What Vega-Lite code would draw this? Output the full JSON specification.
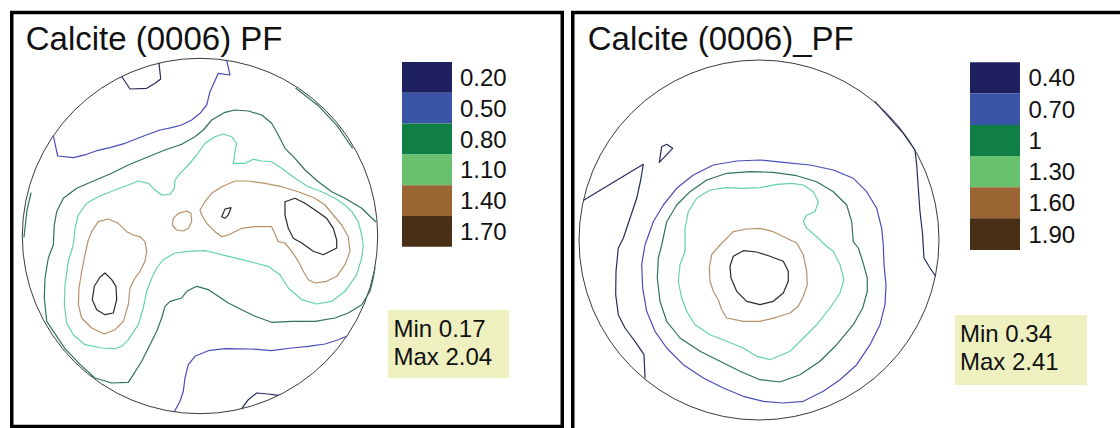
{
"$schema": "https://vega.github.io/schema/vega-lite/v6.json",
"padding": 0,
"spacing": 0,
"config": {"view": {"stroke": null}, "concat": {"spacing": 0}},
"datasets": {
"ctr": [{"x": 0, "y": 0}],
"f1": [{"x": -188.25, "x2": 362.25, "y": 223.5, "y2": -190.5}],
"f2": [{"x": -186.25, "x2": 380, "y": 227.5, "y2": -200}],
"b1": [{"x": 188, "x2": 309, "y": -74, "y2": -142}],
"b2": [{"x": 196, "x2": 328, "y": -75, "y2": -145}],
"g1": [
{"c":1,"x":202,"x2":252,"y":174,"y2":143.2},
{"c":2,"x":202,"x2":252,"y":143.2,"y2":112.4},
{"c":3,"x":202,"x2":252,"y":112.4,"y2":81.6},
{"c":4,"x":202,"x2":252,"y":81.6,"y2":50.8},
{"c":5,"x":202,"x2":252,"y":50.8,"y2":20},
{"c":6,"x":202,"x2":252,"y":20,"y2":-10.8}],
"g2": [
{"c":1,"x":211,"x2":261,"y":177.7,"y2":146.7},
{"c":2,"x":211,"x2":261,"y":146.7,"y2":115},
{"c":3,"x":211,"x2":261,"y":115,"y2":84},
{"c":4,"x":211,"x2":261,"y":84,"y2":52.7},
{"c":5,"x":211,"x2":261,"y":52.7,"y2":21.7},
{"c":6,"x":211,"x2":261,"y":21.7,"y2":-10}],
"t1": [
{"t":"0.20","x":260,"y":150},
{"t":"0.50","x":260,"y":119.2},
{"t":"0.80","x":260,"y":88.4},
{"t":"1.10","x":260,"y":57.6},
{"t":"1.40","x":260,"y":26.8},
{"t":"1.70","x":260,"y":-4},
{"t":"Min 0.17","x":193.5,"y":-100.7},
{"t":"Max 2.04","x":193.5,"y":-129}],
"t2": [
{"t":"0.40","x":269.5,"y":153.6},
{"t":"0.70","x":269.5,"y":122.2},
{"t":"1","x":269.5,"y":90.9},
{"t":"1.30","x":269.5,"y":59.7},
{"t":"1.60","x":269.5,"y":28.6},
{"t":"1.90","x":269.5,"y":-2.8},
{"t":"Min 0.34","x":201,"y":-101.7},
{"t":"Max 2.41","x":201,"y":-130}],
"h1": [{"t":"Calcite (0006) PF","x":-174.3,"y":186}],
"h2": [{"t":"Calcite (0006)_PF","x":-171.3,"y":190}],
"l1": [
{"s":"a","c":1,"x":-78.3,"y":159.5},{"s":"a","c":1,"x":-70,"y":147},{"s":"a","c":1,"x":-53.3,"y":147.7},{"s":"a","c":1,"x":-45,"y":152.7},{"s":"a","c":1,"x":-39.3,"y":157},{"s":"a","c":1,"x":-41,"y":172.9},
{"s":"b","c":2,"x":-146.7,"y":100.3},{"s":"b","c":2,"x":-142.3,"y":80},{"s":"b","c":2,"x":-126.7,"y":78.3},{"s":"b","c":2,"x":-113.3,"y":81.7},{"s":"b","c":2,"x":-103.3,"y":85.3},{"s":"b","c":2,"x":-90,"y":88.3},{"s":"b","c":2,"x":-75,"y":92.7},{"s":"b","c":2,"x":-58.3,"y":99.3},{"s":"b","c":2,"x":-40,"y":106},{"s":"b","c":2,"x":-28.3,"y":108.3},{"s":"b","c":2,"x":-18.3,"y":111},{"s":"b","c":2,"x":-8.3,"y":116},{"s":"b","c":2,"x":0,"y":122.7},{"s":"b","c":2,"x":6.7,"y":131},{"s":"b","c":2,"x":10,"y":144.3},{"s":"b","c":2,"x":18.3,"y":162.7},{"s":"b","c":2,"x":30,"y":161},{"s":"b","c":2,"x":26.7,"y":175.7},
{"s":"c","c":3,"x":95.9,"y":147.7},{"s":"c","c":3,"x":117.8,"y":130.8},{"s":"c","c":3,"x":136.8,"y":110.7},{"s":"c","c":3,"x":152.4,"y":88},
{"s":"d","c":3,"x":175.7,"y":14.3},{"s":"d","c":3,"x":161.7,"y":27.7},{"s":"d","c":3,"x":145,"y":37.7},{"s":"d","c":3,"x":131.7,"y":44.3},{"s":"d","c":3,"x":118.3,"y":54.3},{"s":"d","c":3,"x":105,"y":66},{"s":"d","c":3,"x":95,"y":77.7},{"s":"d","c":3,"x":85,"y":87.7},{"s":"d","c":3,"x":78.3,"y":101},{"s":"d","c":3,"x":71.7,"y":112.7},{"s":"d","c":3,"x":61.7,"y":121},{"s":"d","c":3,"x":48.3,"y":125},{"s":"d","c":3,"x":35,"y":126},{"s":"d","c":3,"x":25,"y":123.7},{"s":"d","c":3,"x":11.7,"y":116},{"s":"d","c":3,"x":3.3,"y":106},{"s":"d","c":3,"x":-5,"y":99.3},{"s":"d","c":3,"x":-18.3,"y":91.7},{"s":"d","c":3,"x":-35,"y":86},{"s":"d","c":3,"x":-51.7,"y":79.3},{"s":"d","c":3,"x":-71.7,"y":71},{"s":"d","c":3,"x":-88.3,"y":62.7},{"s":"d","c":3,"x":-108.3,"y":54.3},{"s":"d","c":3,"x":-123.3,"y":47.7},{"s":"d","c":3,"x":-136.7,"y":37.7},{"s":"d","c":3,"x":-143.3,"y":24.3},{"s":"d","c":3,"x":-145.7,"y":11},{"s":"d","c":3,"x":-146.7,"y":-9},{"s":"d","c":3,"x":-151.7,"y":-22},{"s":"d","c":3,"x":-155,"y":-42},{"s":"d","c":3,"x":-155.7,"y":-62},{"s":"d","c":3,"x":-153.3,"y":-85.3},{"s":"d","c":3,"x":-135,"y":-112.7},{"s":"d","c":3,"x":-120,"y":-128.4},{"s":"d","c":3,"x":-105,"y":-142},{"s":"d","c":3,"x":-88.3,"y":-147},{"s":"d","c":3,"x":-71.7,"y":-146.3},{"s":"d","c":3,"x":-66.7,"y":-138.7},{"s":"d","c":3,"x":-58.3,"y":-125.3},{"s":"d","c":3,"x":-50,"y":-108.7},{"s":"d","c":3,"x":-43.3,"y":-95.3},{"s":"d","c":3,"x":-38.3,"y":-82},{"s":"d","c":3,"x":-35,"y":-70.3},{"s":"d","c":3,"x":-30,"y":-65.3},{"s":"d","c":3,"x":-18.3,"y":-62},{"s":"d","c":3,"x":-13.3,"y":-55.3},{"s":"d","c":3,"x":-3.3,"y":-50.3},{"s":"d","c":3,"x":8.3,"y":-53.7},{"s":"d","c":3,"x":18.3,"y":-60.3},{"s":"d","c":3,"x":28.3,"y":-67},{"s":"d","c":3,"x":41.7,"y":-73.7},{"s":"d","c":3,"x":55,"y":-80.3},{"s":"d","c":3,"x":71.7,"y":-86.3},{"s":"d","c":3,"x":91.7,"y":-85.3},{"s":"d","c":3,"x":115,"y":-85.3},{"s":"d","c":3,"x":135,"y":-82},{"s":"d","c":3,"x":148.3,"y":-77},{"s":"d","c":3,"x":161.7,"y":-68.7},{"s":"d","c":3,"x":170,"y":-55.3},{"s":"d","c":3,"x":173.3,"y":-42},{"s":"d","c":3,"x":175,"y":-32},
{"s":"e","c":3,"x":-169,"y":43},{"s":"e","c":3,"x":-173,"y":26},{"s":"e","c":3,"x":-176,"y":-1},
{"s":"f","c":4,"x":-126.7,"y":-9},{"s":"f","c":4,"x":-125,"y":7.7},{"s":"f","c":4,"x":-121.7,"y":21},{"s":"f","c":4,"x":-113.3,"y":32.7},{"s":"f","c":4,"x":-101.7,"y":39.3},{"s":"f","c":4,"x":-85,"y":46},{"s":"f","c":4,"x":-71.7,"y":51},{"s":"f","c":4,"x":-61.7,"y":55},{"s":"f","c":4,"x":-51.7,"y":52.7},{"s":"f","c":4,"x":-45,"y":46},{"s":"f","c":4,"x":-38.3,"y":41},{"s":"f","c":4,"x":-30,"y":41.7},{"s":"f","c":4,"x":-25.7,"y":47.7},{"s":"f","c":4,"x":-25,"y":56},{"s":"f","c":4,"x":-20,"y":62.7},{"s":"f","c":4,"x":-11.7,"y":71},{"s":"f","c":4,"x":-3.3,"y":81},{"s":"f","c":4,"x":5,"y":92.7},{"s":"f","c":4,"x":15,"y":99.3},{"s":"f","c":4,"x":23.3,"y":102},{"s":"f","c":4,"x":31.7,"y":99.3},{"s":"f","c":4,"x":36.7,"y":92.7},{"s":"f","c":4,"x":35,"y":84.3},{"s":"f","c":4,"x":33.3,"y":72.7},{"s":"f","c":4,"x":45,"y":72.7},{"s":"f","c":4,"x":53.3,"y":76.7},{"s":"f","c":4,"x":61.7,"y":75},{"s":"f","c":4,"x":71.7,"y":74.3},{"s":"f","c":4,"x":81.7,"y":67.7},{"s":"f","c":4,"x":95,"y":57.7},{"s":"f","c":4,"x":108.3,"y":49.3},{"s":"f","c":4,"x":121.7,"y":44.3},{"s":"f","c":4,"x":135,"y":37.7},{"s":"f","c":4,"x":145,"y":31},{"s":"f","c":4,"x":151.7,"y":24.3},{"s":"f","c":4,"x":158.3,"y":14.3},{"s":"f","c":4,"x":161.7,"y":1},{"s":"f","c":4,"x":163.3,"y":-9},{"s":"f","c":4,"x":161.7,"y":-22},{"s":"f","c":4,"x":156.7,"y":-38.7},{"s":"f","c":4,"x":145,"y":-55.3},{"s":"f","c":4,"x":131.7,"y":-65.3},{"s":"f","c":4,"x":116.7,"y":-68},{"s":"f","c":4,"x":101.7,"y":-63.7},{"s":"f","c":4,"x":88.3,"y":-52},{"s":"f","c":4,"x":80,"y":-38.7},{"s":"f","c":4,"x":68.3,"y":-30.3},{"s":"f","c":4,"x":55,"y":-27},{"s":"f","c":4,"x":41.7,"y":-23.7},{"s":"f","c":4,"x":28.3,"y":-20.3},{"s":"f","c":4,"x":15,"y":-17},{"s":"f","c":4,"x":5,"y":-14.7},{"s":"f","c":4,"x":-11.7,"y":-15.3},{"s":"f","c":4,"x":-25,"y":-17},{"s":"f","c":4,"x":-36.7,"y":-23.7},{"s":"f","c":4,"x":-43.3,"y":-32},{"s":"f","c":4,"x":-48.3,"y":-42},{"s":"f","c":4,"x":-53.3,"y":-55.3},{"s":"f","c":4,"x":-56.7,"y":-72},{"s":"f","c":4,"x":-61.7,"y":-88.7},{"s":"f","c":4,"x":-71.7,"y":-103.7},{"s":"f","c":4,"x":-78.3,"y":-110.3},{"s":"f","c":4,"x":-85,"y":-112.7},{"s":"f","c":4,"x":-98.3,"y":-112},{"s":"f","c":4,"x":-115,"y":-108.7},{"s":"f","c":4,"x":-126.7,"y":-98.7},{"s":"f","c":4,"x":-133.3,"y":-87},{"s":"f","c":4,"x":-135.7,"y":-68.7},{"s":"f","c":4,"x":-135,"y":-48.7},{"s":"f","c":4,"x":-131.7,"y":-25.3},{"s":"f","c":4,"x":-126.7,"y":-9},
{"s":"g","c":5,"x":-115,"y":-18.7},{"s":"g","c":5,"x":-111.7,"y":-4},{"s":"g","c":5,"x":-108.3,"y":4.3},{"s":"g","c":5,"x":-101.7,"y":14.3},{"s":"g","c":5,"x":-91.7,"y":17},{"s":"g","c":5,"x":-81.7,"y":12.7},{"s":"g","c":5,"x":-73.3,"y":4.3},{"s":"g","c":5,"x":-66.7,"y":1},{"s":"g","c":5,"x":-60,"y":-0.7},{"s":"g","c":5,"x":-55,"y":-5.7},{"s":"g","c":5,"x":-53.3,"y":-15.3},{"s":"g","c":5,"x":-55,"y":-25.3},{"s":"g","c":5,"x":-60,"y":-35.3},{"s":"g","c":5,"x":-65,"y":-42},{"s":"g","c":5,"x":-70,"y":-52},{"s":"g","c":5,"x":-71.7,"y":-68.7},{"s":"g","c":5,"x":-76.7,"y":-85.3},{"s":"g","c":5,"x":-85,"y":-93.7},{"s":"g","c":5,"x":-95.7,"y":-98},{"s":"g","c":5,"x":-108.3,"y":-92},{"s":"g","c":5,"x":-118.3,"y":-82},{"s":"g","c":5,"x":-121.7,"y":-68.7},{"s":"g","c":5,"x":-121,"y":-52},{"s":"g","c":5,"x":-118.3,"y":-35.3},{"s":"g","c":5,"x":-115,"y":-18.7},
{"s":"h","c":5,"x":-26.7,"y":17.7},{"s":"h","c":5,"x":-21.7,"y":22.7},{"s":"h","c":5,"x":-13.3,"y":25},{"s":"h","c":5,"x":-9,"y":22.7},{"s":"h","c":5,"x":-8.3,"y":14.3},{"s":"h","c":5,"x":-11.7,"y":7.7},{"s":"h","c":5,"x":-16.7,"y":5},{"s":"h","c":5,"x":-23.3,"y":6},{"s":"h","c":5,"x":-27.7,"y":11},{"s":"h","c":5,"x":-26.7,"y":17.7},
{"s":"i","c":5,"x":0,"y":26},{"s":"i","c":5,"x":5,"y":34.3},{"s":"i","c":5,"x":11.7,"y":42.7},{"s":"i","c":5,"x":21.7,"y":49.3},{"s":"i","c":5,"x":35,"y":55},{"s":"i","c":5,"x":48.3,"y":55},{"s":"i","c":5,"x":65,"y":52.7},{"s":"i","c":5,"x":81.7,"y":49.3},{"s":"i","c":5,"x":98.3,"y":44.3},{"s":"i","c":5,"x":115,"y":37.7},{"s":"i","c":5,"x":125,"y":31},{"s":"i","c":5,"x":133.3,"y":21},{"s":"i","c":5,"x":141.7,"y":11},{"s":"i","c":5,"x":148.3,"y":-0.7},{"s":"i","c":5,"x":150,"y":-15.3},{"s":"i","c":5,"x":145,"y":-28.7},{"s":"i","c":5,"x":136.7,"y":-40.3},{"s":"i","c":5,"x":126.7,"y":-45.3},{"s":"i","c":5,"x":115,"y":-47},{"s":"i","c":5,"x":108.3,"y":-43.7},{"s":"i","c":5,"x":103.3,"y":-35.3},{"s":"i","c":5,"x":98.3,"y":-25.3},{"s":"i","c":5,"x":91.7,"y":-15.3},{"s":"i","c":5,"x":85,"y":-7},{"s":"i","c":5,"x":78.3,"y":-5.7},{"s":"i","c":5,"x":71.7,"y":9.3},{"s":"i","c":5,"x":55,"y":9.3},{"s":"i","c":5,"x":41.7,"y":7.7},{"s":"i","c":5,"x":28.3,"y":1},{"s":"i","c":5,"x":21.7,"y":-0.7},{"s":"i","c":5,"x":15,"y":4.3},{"s":"i","c":5,"x":6.7,"y":12.7},{"s":"i","c":5,"x":1.7,"y":21},{"s":"i","c":5,"x":0,"y":26},
{"s":"j","c":6,"x":21.7,"y":19.3},{"s":"j","c":6,"x":25,"y":27},{"s":"j","c":6,"x":31,"y":28.3},{"s":"j","c":6,"x":28.3,"y":21},{"s":"j","c":6,"x":25,"y":17.7},{"s":"j","c":6,"x":21.7,"y":19.3},
{"s":"k","c":6,"x":85,"y":34.3},{"s":"k","c":6,"x":95,"y":37.7},{"s":"k","c":6,"x":105,"y":32.7},{"s":"k","c":6,"x":115,"y":26},{"s":"k","c":6,"x":126.7,"y":17.7},{"s":"k","c":6,"x":133.3,"y":7.7},{"s":"k","c":6,"x":136.7,"y":-4},{"s":"k","c":6,"x":136.7,"y":-12},{"s":"k","c":6,"x":123.3,"y":-18.7},{"s":"k","c":6,"x":113.3,"y":-15.3},{"s":"k","c":6,"x":101.7,"y":-7},{"s":"k","c":6,"x":93.3,"y":-2.3},{"s":"k","c":6,"x":88.3,"y":7.7},{"s":"k","c":6,"x":85,"y":21},{"s":"k","c":6,"x":85,"y":34.3},
{"s":"l","c":6,"x":-95,"y":-37},{"s":"l","c":6,"x":-88.3,"y":-43.7},{"s":"l","c":6,"x":-84,"y":-50.3},{"s":"l","c":6,"x":-83.3,"y":-63.7},{"s":"l","c":6,"x":-86.7,"y":-77},{"s":"l","c":6,"x":-95,"y":-78.7},{"s":"l","c":6,"x":-103.3,"y":-73.7},{"s":"l","c":6,"x":-107.7,"y":-63.7},{"s":"l","c":6,"x":-105.7,"y":-50.3},{"s":"l","c":6,"x":-100,"y":-41.3},{"s":"l","c":6,"x":-95,"y":-37},
{"s":"m","c":2,"x":-25.7,"y":-175.8},{"s":"m","c":2,"x":-20,"y":-165.3},{"s":"m","c":2,"x":-16.7,"y":-155.3},{"s":"m","c":2,"x":-15,"y":-142},{"s":"m","c":2,"x":-11.7,"y":-128.7},{"s":"m","c":2,"x":-5,"y":-120.3},{"s":"m","c":2,"x":8.3,"y":-114.7},{"s":"m","c":2,"x":25,"y":-112.7},{"s":"m","c":2,"x":51.7,"y":-113},{"s":"m","c":2,"x":71.7,"y":-114.7},{"s":"m","c":2,"x":91.7,"y":-112},{"s":"m","c":2,"x":108.3,"y":-110.3},{"s":"m","c":2,"x":125,"y":-108},{"s":"m","c":2,"x":138.3,"y":-103.7},{"s":"m","c":2,"x":146.7,"y":-100.3},
{"s":"n","c":1,"x":41.7,"y":-172.7},{"s":"n","c":1,"x":48.3,"y":-163.7},{"s":"n","c":1,"x":56.7,"y":-157},{"s":"n","c":1,"x":68.3,"y":-158},{"s":"n","c":1,"x":78.3,"y":-159.3}
],
"l2": [
{"s":"a","c":1,"x":-175,"y":40},{"s":"a","c":1,"x":-115.7,"y":75.7},{"s":"a","c":1,"x":-118.3,"y":60},{"s":"a","c":1,"x":-122.3,"y":41.7},{"s":"a","c":1,"x":-129,"y":21.7},{"s":"a","c":1,"x":-135.7,"y":1.7},{"s":"a","c":1,"x":-140.7,"y":-8},{"s":"a","c":1,"x":-143,"y":-31.3},{"s":"a","c":1,"x":-143.3,"y":-54.7},{"s":"a","c":1,"x":-140.7,"y":-74.7},{"s":"a","c":1,"x":-134,"y":-88},{"s":"a","c":1,"x":-124,"y":-101.3},{"s":"a","c":1,"x":-115,"y":-114.7},{"s":"a","c":1,"x":-114,"y":-138},
{"s":"b","c":1,"x":-99.7,"y":77.7},{"s":"b","c":1,"x":-97.3,"y":93.3},{"s":"b","c":1,"x":-92.3,"y":95.7},{"s":"b","c":1,"x":-86.3,"y":91.7},{"s":"b","c":1,"x":-99.7,"y":77.7},
{"s":"c","c":1,"x":116,"y":138.3},{"s":"c","c":1,"x":131,"y":121.7},{"s":"c","c":1,"x":144.3,"y":106.7},{"s":"c","c":1,"x":156,"y":90},{"s":"c","c":1,"x":157.7,"y":75},{"s":"c","c":1,"x":159.3,"y":51.7},{"s":"c","c":1,"x":161,"y":28.3},{"s":"c","c":1,"x":163.7,"y":5},{"s":"c","c":1,"x":164.3,"y":-8},{"s":"c","c":1,"x":165,"y":-18},{"s":"c","c":1,"x":171,"y":-28},{"s":"c","c":1,"x":176.5,"y":-36},
{"s":"d","c":2,"x":-114,"y":-5},{"s":"d","c":2,"x":-105.7,"y":18.3},{"s":"d","c":2,"x":-95.7,"y":35},{"s":"d","c":2,"x":-82.3,"y":51.7},{"s":"d","c":2,"x":-65.7,"y":65},{"s":"d","c":2,"x":-45.7,"y":75},{"s":"d","c":2,"x":-22.3,"y":79},{"s":"d","c":2,"x":1,"y":80},{"s":"d","c":2,"x":24.3,"y":77.7},{"s":"d","c":2,"x":51,"y":75},{"s":"d","c":2,"x":74.3,"y":70},{"s":"d","c":2,"x":94.3,"y":61.7},{"s":"d","c":2,"x":107.7,"y":48.3},{"s":"d","c":2,"x":117.7,"y":31.7},{"s":"d","c":2,"x":122.7,"y":11.7},{"s":"d","c":2,"x":124.3,"y":-4.7},{"s":"d","c":2,"x":125,"y":-24.7},{"s":"d","c":2,"x":127,"y":-44.7},{"s":"d","c":2,"x":126,"y":-64.7},{"s":"d","c":2,"x":121,"y":-84.7},{"s":"d","c":2,"x":111,"y":-104.7},{"s":"d","c":2,"x":97.7,"y":-124.7},{"s":"d","c":2,"x":81,"y":-139.7},{"s":"d","c":2,"x":64.3,"y":-151.3},{"s":"d","c":2,"x":44.3,"y":-161.3},{"s":"d","c":2,"x":24.3,"y":-163},{"s":"d","c":2,"x":4.3,"y":-161.3},{"s":"d","c":2,"x":-15.7,"y":-156.3},{"s":"d","c":2,"x":-35.7,"y":-148},{"s":"d","c":2,"x":-55.7,"y":-138},{"s":"d","c":2,"x":-75.7,"y":-124.7},{"s":"d","c":2,"x":-92.3,"y":-108},{"s":"d","c":2,"x":-104,"y":-91.3},{"s":"d","c":2,"x":-112.3,"y":-71.3},{"s":"d","c":2,"x":-116.3,"y":-48},{"s":"d","c":2,"x":-117.3,"y":-24.7},{"s":"d","c":2,"x":-114,"y":-5},
{"s":"e","c":3,"x":-97.3,"y":-5},{"s":"e","c":3,"x":-92.3,"y":18.3},{"s":"e","c":3,"x":-82.3,"y":35},{"s":"e","c":3,"x":-69,"y":48.3},{"s":"e","c":3,"x":-52.3,"y":60},{"s":"e","c":3,"x":-32.3,"y":66.7},{"s":"e","c":3,"x":-9,"y":68.3},{"s":"e","c":3,"x":14.3,"y":67.7},{"s":"e","c":3,"x":37.7,"y":64.3},{"s":"e","c":3,"x":57.7,"y":58.3},{"s":"e","c":3,"x":74.3,"y":48.3},{"s":"e","c":3,"x":87.7,"y":35},{"s":"e","c":3,"x":92.7,"y":18.3},{"s":"e","c":3,"x":94.3,"y":-1.7},{"s":"e","c":3,"x":99.3,"y":-8},{"s":"e","c":3,"x":103.7,"y":-21.3},{"s":"e","c":3,"x":108.3,"y":-38},{"s":"e","c":3,"x":108.3,"y":-51.3},{"s":"e","c":3,"x":103.7,"y":-68},{"s":"e","c":3,"x":94.3,"y":-84.7},{"s":"e","c":3,"x":77.7,"y":-104.7},{"s":"e","c":3,"x":61,"y":-121.3},{"s":"e","c":3,"x":41,"y":-134.7},{"s":"e","c":3,"x":21,"y":-142},{"s":"e","c":3,"x":1,"y":-139.7},{"s":"e","c":3,"x":-19,"y":-131.3},{"s":"e","c":3,"x":-39,"y":-121.3},{"s":"e","c":3,"x":-59,"y":-111.3},{"s":"e","c":3,"x":-79,"y":-98},{"s":"e","c":3,"x":-92.3,"y":-81.3},{"s":"e","c":3,"x":-99,"y":-61.3},{"s":"e","c":3,"x":-101.7,"y":-38},{"s":"e","c":3,"x":-100.7,"y":-18},{"s":"e","c":3,"x":-97.3,"y":-5},
{"s":"f","c":4,"x":-74,"y":-5},{"s":"f","c":4,"x":-74,"y":11.7},{"s":"f","c":4,"x":-70.7,"y":28.3},{"s":"f","c":4,"x":-62.3,"y":41.7},{"s":"f","c":4,"x":-49,"y":50},{"s":"f","c":4,"x":-32.3,"y":52.3},{"s":"f","c":4,"x":-15.7,"y":51.7},{"s":"f","c":4,"x":1,"y":52.3},{"s":"f","c":4,"x":17.7,"y":55.7},{"s":"f","c":4,"x":32.7,"y":56.7},{"s":"f","c":4,"x":44.3,"y":55},{"s":"f","c":4,"x":54.3,"y":48.3},{"s":"f","c":4,"x":59.3,"y":38.3},{"s":"f","c":4,"x":56,"y":28.3},{"s":"f","c":4,"x":47.7,"y":25},{"s":"f","c":4,"x":44.3,"y":18.3},{"s":"f","c":4,"x":47.7,"y":11.7},{"s":"f","c":4,"x":57.7,"y":3.3},{"s":"f","c":4,"x":66,"y":-5},{"s":"f","c":4,"x":74.3,"y":-11.3},{"s":"f","c":4,"x":81,"y":-24.7},{"s":"f","c":4,"x":85,"y":-39.7},{"s":"f","c":4,"x":81,"y":-53},{"s":"f","c":4,"x":71,"y":-68},{"s":"f","c":4,"x":57.7,"y":-84.7},{"s":"f","c":4,"x":44.3,"y":-98},{"s":"f","c":4,"x":31,"y":-111.3},{"s":"f","c":4,"x":11,"y":-119.7},{"s":"f","c":4,"x":-2.3,"y":-116.3},{"s":"f","c":4,"x":-15.7,"y":-108},{"s":"f","c":4,"x":-32.3,"y":-101.3},{"s":"f","c":4,"x":-49,"y":-94.7},{"s":"f","c":4,"x":-64,"y":-84.7},{"s":"f","c":4,"x":-72.3,"y":-71.3},{"s":"f","c":4,"x":-77.3,"y":-58},{"s":"f","c":4,"x":-80.7,"y":-41.3},{"s":"f","c":4,"x":-79,"y":-24.7},{"s":"f","c":4,"x":-74,"y":-11.3},{"s":"f","c":4,"x":-74,"y":-5},
{"s":"g","c":5,"x":-39,"y":-5},{"s":"g","c":5,"x":-25.7,"y":8.3},{"s":"g","c":5,"x":-12.3,"y":11},{"s":"g","c":5,"x":1,"y":11.7},{"s":"g","c":5,"x":14.3,"y":8.3},{"s":"g","c":5,"x":27.7,"y":1.7},{"s":"g","c":5,"x":37.7,"y":-3},{"s":"g","c":5,"x":44.3,"y":-14.7},{"s":"g","c":5,"x":47.7,"y":-31.3},{"s":"g","c":5,"x":48.3,"y":-44.7},{"s":"g","c":5,"x":44.3,"y":-56.3},{"s":"g","c":5,"x":39.3,"y":-66.3},{"s":"g","c":5,"x":31,"y":-73},{"s":"g","c":5,"x":17.7,"y":-77.3},{"s":"g","c":5,"x":1,"y":-81.3},{"s":"g","c":5,"x":-15.7,"y":-81.3},{"s":"g","c":5,"x":-32.3,"y":-78},{"s":"g","c":5,"x":-37.3,"y":-69.7},{"s":"g","c":5,"x":-40.7,"y":-59.7},{"s":"g","c":5,"x":-45.7,"y":-51.3},{"s":"g","c":5,"x":-49,"y":-41.3},{"s":"g","c":5,"x":-49.7,"y":-28},{"s":"g","c":5,"x":-47.3,"y":-14.7},{"s":"g","c":5,"x":-39,"y":-5},
{"s":"h","c":6,"x":-25.7,"y":-16.3},{"s":"h","c":6,"x":-15.7,"y":-10.7},{"s":"h","c":6,"x":-2.3,"y":-12},{"s":"h","c":6,"x":11,"y":-16.3},{"s":"h","c":6,"x":24.3,"y":-21.3},{"s":"h","c":6,"x":29.3,"y":-31.3},{"s":"h","c":6,"x":29.3,"y":-41.3},{"s":"h","c":6,"x":24.3,"y":-53},{"s":"h","c":6,"x":14.3,"y":-61.3},{"s":"h","c":6,"x":1,"y":-64.7},{"s":"h","c":6,"x":-12.3,"y":-61.3},{"s":"h","c":6,"x":-22.3,"y":-51.3},{"s":"h","c":6,"x":-28,"y":-38},{"s":"h","c":6,"x":-29,"y":-26.3},{"s":"h","c":6,"x":-25.7,"y":-16.3}
]
},
"hconcat": [
{
"width": 567, "height": 428,
"encoding": {
"x": {"field": "x", "type": "quantitative", "scale": {"domain": [-200, 367], "nice": false, "zero": false}, "axis": null},
"y": {"field": "y", "type": "quantitative", "scale": {"domain": [-192, 236], "nice": false, "zero": false}, "axis": null}
},
"layer": [
{"data": {"name": "b1"}, "mark": {"type": "rect", "fill": "#eef1bf", "stroke": null}, "encoding": {"x2": {"field": "x2"}, "y2": {"field": "y2"}}},
{"data": {"name": "ctr"}, "mark": {"type": "point", "shape": "circle", "size": 126309, "filled": false, "stroke": "#3a3a3a", "strokeWidth": 1, "opacity": 1}},
{"data": {"name": "l1"}, "mark": {"type": "line", "strokeJoin": "round", "strokeCap": "round"},
 "encoding": {
  "detail": {"field": "s", "type": "nominal"},
  "order": {"value": null},
  "stroke": {"field": "c", "type": "nominal", "scale": {"domain": [1,2,3,4,5,6], "range": ["#262b5e","#4a4db8","#2f7358","#66d3a6","#b8916a","#2a2a2a"]}, "legend": null},
  "strokeWidth": {"field": "c", "type": "ordinal", "scale": {"domain": [1,2,3,4,5,6], "range": [1.2,1.2,1.3,2,1.4,1.2]}, "legend": null}
 }},
{"data": {"name": "g1"}, "mark": {"type": "rect", "stroke": null},
 "encoding": {"x2": {"field": "x2"}, "y2": {"field": "y2"},
  "fill": {"field": "c", "type": "nominal", "scale": {"domain": [1,2,3,4,5,6], "range": ["#1f2060","#3a55a5","#0f7f45","#69c16e","#9a6532","#4a2f17"]}, "legend": null}}},
{"data": {"name": "t1"}, "mark": {"type": "text", "align": "left", "baseline": "alphabetic", "font": "Liberation Sans", "fontSize": 24, "color": "#111"},
 "encoding": {"text": {"field": "t", "type": "nominal"}}},
{"data": {"name": "h1"}, "mark": {"type": "text", "align": "left", "baseline": "alphabetic", "font": "Liberation Sans", "fontSize": 33, "color": "#111"},
 "encoding": {"text": {"field": "t", "type": "nominal"}}},
{"data": {"name": "f1"}, "mark": {"type": "rect", "filled": false, "color": "#000", "strokeWidth": 3.5, "clip": true},
 "encoding": {"x2": {"field": "x2"}, "y2": {"field": "y2"}}}
]
},
{
"width": 553, "height": 428,
"encoding": {
"x": {"field": "x", "type": "quantitative", "scale": {"domain": [-192, 361], "nice": false, "zero": false}, "axis": null},
"y": {"field": "y", "type": "quantitative", "scale": {"domain": [-188, 240], "nice": false, "zero": false}, "axis": null}
},
"layer": [
{"data": {"name": "b2"}, "mark": {"type": "rect", "fill": "#eef1bf", "stroke": null}, "encoding": {"x2": {"field": "x2"}, "y2": {"field": "y2"}}},
{"data": {"name": "ctr"}, "mark": {"type": "point", "shape": "circle", "size": 129600, "filled": false, "stroke": "#3a3a3a", "strokeWidth": 1, "opacity": 1}},
{"data": {"name": "l2"}, "mark": {"type": "line", "strokeJoin": "round", "strokeCap": "round"},
 "encoding": {
  "detail": {"field": "s", "type": "nominal"},
  "order": {"value": null},
  "stroke": {"field": "c", "type": "nominal", "scale": {"domain": [1,2,3,4,5,6], "range": ["#262b5e","#4a4db8","#2f7358","#66d3a6","#b8916a","#2a2a2a"]}, "legend": null},
  "strokeWidth": {"field": "c", "type": "ordinal", "scale": {"domain": [1,2,3,4,5,6], "range": [1.2,1.2,1.3,2,1.4,1.2]}, "legend": null}
 }},
{"data": {"name": "g2"}, "mark": {"type": "rect", "stroke": null},
 "encoding": {"x2": {"field": "x2"}, "y2": {"field": "y2"},
  "fill": {"field": "c", "type": "nominal", "scale": {"domain": [1,2,3,4,5,6], "range": ["#1f2060","#3a55a5","#0f7f45","#69c16e","#9a6532","#4a2f17"]}, "legend": null}}},
{"data": {"name": "t2"}, "mark": {"type": "text", "align": "left", "baseline": "alphabetic", "font": "Liberation Sans", "fontSize": 24, "color": "#111"},
 "encoding": {"text": {"field": "t", "type": "nominal"}}},
{"data": {"name": "h2"}, "mark": {"type": "text", "align": "left", "baseline": "alphabetic", "font": "Liberation Sans", "fontSize": 33, "color": "#111"},
 "encoding": {"text": {"field": "t", "type": "nominal"}}},
{"data": {"name": "f2"}, "mark": {"type": "rect", "filled": false, "color": "#000", "strokeWidth": 3.5, "clip": true},
 "encoding": {"x2": {"field": "x2"}, "y2": {"field": "y2"}}}
]
}
]
}
